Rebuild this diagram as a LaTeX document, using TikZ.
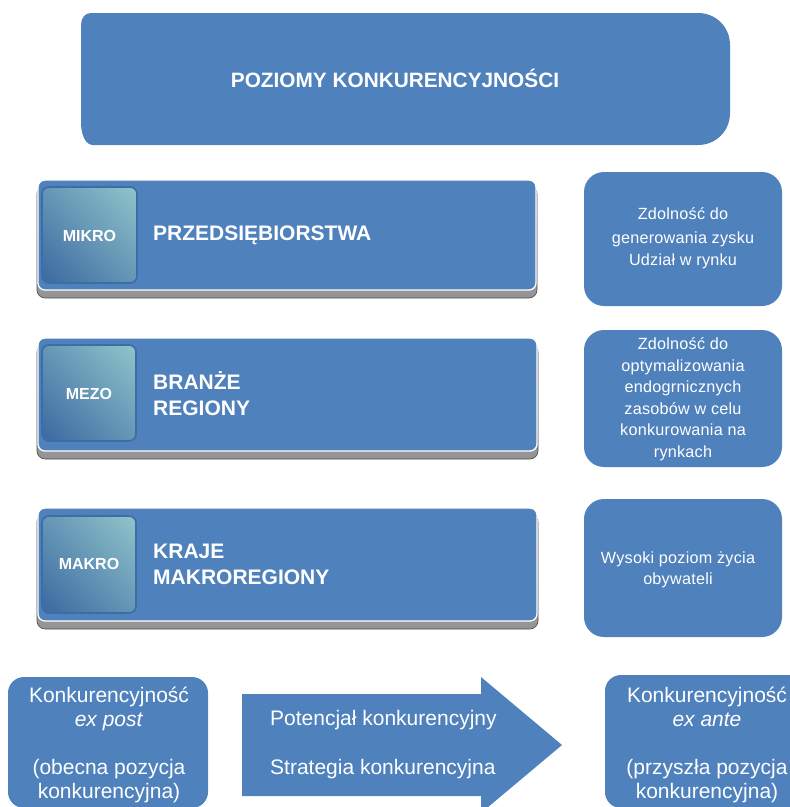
\documentclass[tikz,border=0pt]{standalone}
\usepackage{fontspec}
\usetikzlibrary{shadings}
\setmainfont{Liberation Sans}
\definecolor{mblue}{HTML}{4F81BD}
\definecolor{sqlight}{HTML}{90C5CA}
\definecolor{sqmid}{HTML}{6596B6}
\definecolor{sqdark}{HTML}{3B68A0}
\definecolor{sqborder}{HTML}{3E6CA5}
\tikzset{
  txt/.style={text=white, inner sep=0pt},
  rowbase/.style={top color=gray!40, bottom color=gray!85, draw=gray!60!black, line width=0.6pt, rounded corners=8},
  rowbox/.style={fill=mblue, draw=white, line width=1.3pt, rounded corners=7},
  levelsq/.style={upper right=sqlight, lower left=sqdark, upper left=sqmid, lower right=sqmid, draw=sqborder, line width=1.6pt, rounded corners=7},
  sidebox/.style={fill=mblue, rounded corners=20},
  levtxt/.style={txt, font=\fontsize{16}{19}\selectfont\bfseries},
  rowtxt/.style={txt, anchor=west, align=left, font=\fontsize{21}{26}\selectfont\bfseries},
  sidetxt/.style={txt, align=center, font=\fontsize{16.2}{21.5}\selectfont\addfontfeature{LetterSpace=1.5}},
  bottxt/.style={txt, align=center, font=\fontsize{21}{24}\selectfont},
}
\begin{document}
\begin{tikzpicture}[x=1pt,y=-1pt]
\useasboundingbox (0,0) rectangle (790,807);
\clip (0,0) rectangle (790,807);
% title box
\fill[mblue] (91,13) -- (698,13) .. controls (716,13) and (730,27) .. (730,45) -- (730,113) .. controls (730,131) and (716,145) .. (698,145) -- (93,145) .. controls (86,145) and (81,136) .. (81,122) -- (81,25) .. controls (81,18) and (85,13) .. (91,13) -- cycle;
\node[txt, font=\fontsize{20.8}{24}\selectfont\bfseries] (title) at (395,78) {POZIOMY KONKURENCYJNOŚCI};

% row 1
\shade[rowbase] (37,186) rectangle (537,298);
\filldraw[rowbox] (38,180) rectangle (536,290);
\shade[levelsq] (42,187) rectangle (137,283);
\node[levtxt] (mikro) at (89.5,236) {MIKRO};
\node[rowtxt] (przed) at (153,235) {PRZEDSIĘBIORSTWA};

% row 2
\shade[rowbase] (37,344) rectangle (538,459);
\filldraw[rowbox] (38,338) rectangle (537,451);
\shade[levelsq] (42,345) rectangle (136,441);
\node[levtxt] (mezo) at (89,394) {MEZO};
\node[rowtxt] (branze) at (153,394) {BRANŻE\\REGIONY};

% row 3
\shade[rowbase] (37,514) rectangle (538,629);
\filldraw[rowbox] (38,508) rectangle (537,621);
\shade[levelsq] (42,516) rectangle (136,613);
\node[levtxt] (makro) at (89,564) {MAKRO};
\node[rowtxt] (kraje) at (153,564) {KRAJE\\MAKROREGIONY};

% side boxes
\fill[sidebox] (584,172) rectangle (782,306);
\node[sidetxt] (s1) at (683,238) {Zdolność do\\[3pt]generowania zysku\\Udział w rynku};
\fill[sidebox] (584,330) rectangle (782,467);
\node[sidetxt] (s2) at (683,399) {Zdolność do\\optymalizowania\\endogrnicznych\\zasobów w celu\\konkurowania na\\rynkach};
\fill[sidebox] (584,499) rectangle (782,637);
\node[sidetxt] (s3) at (678,570) {Wysoki poziom życia\\obywateli};

% bottom
\fill[mblue, rounded corners=16] (8,677) rectangle (208,808);
\node[bottxt] (expost) at (109,745) {Konkurencyjność\\\textit{ex post}\\[24pt](obecna pozycja\\konkurencyjna)};
\fill[mblue] (242,694) -- (481,694) -- (481,677) -- (562,745) -- (481,813) -- (481,796) -- (242,796) -- cycle;
\node[bottxt, anchor=west] (pot) at (270,720) {Potencjał konkurencyjny};
\node[bottxt, anchor=west] (strat) at (270,769) {Strategia konkurencyjna};
\fill[mblue, rounded corners=16] (605,675) rectangle (820,808);
\node[bottxt] (exante) at (707,745) {Konkurencyjność\\\textit{ex ante}\\[24pt](przyszła pozycja\\konkurencyjna)};
\end{tikzpicture}
\end{document}
